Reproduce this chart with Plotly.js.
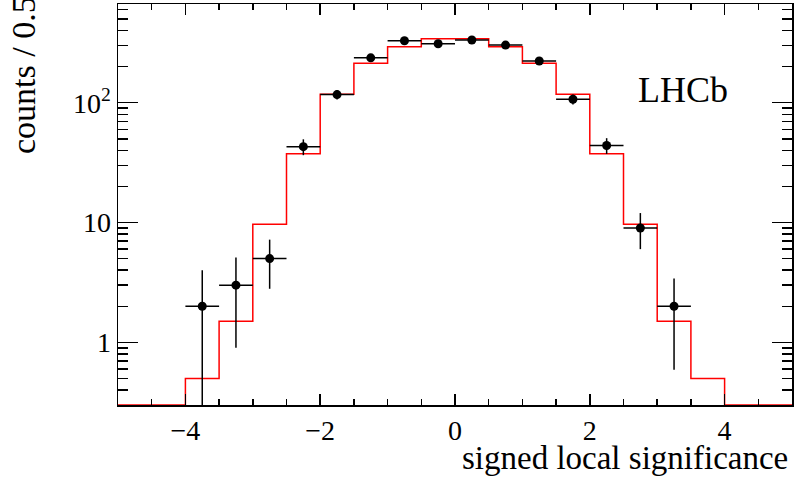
<!DOCTYPE html>
<html>
<head>
<meta charset="utf-8">
<script src="https://cdn.plot.ly/plotly-3.0.1.min.js"></script>
<style>html,body{margin:0;padding:0;background:#fff;}#chart{width:795px;height:484px;}</style>
</head>
<body>
<div id="chart"></div>
<script>
// Bin edges of the histogram (signed local significance)
const binEdges = [-5,-4.5,-4,-3.5,-3,-2.5,-2,-1.5,-1,-0.5,0,0.5,1,1.5,2,2.5,3,3.5,4,4.5,5];
// Expected (red histogram) counts per bin
const expected = [0,0,0.5,1.5,9.7,37.5,118,214,293,342,342,293,214,118,37.5,9.7,1.5,0.5,0,0];
// Data points: bin centres, counts, errors
const dataX = [-3.75,-3.25,-2.75,-2.25,-1.75,-1.25,-0.75,-0.25,0.25,0.75,1.25,1.75,2.25,2.75,3.25];
const dataY = [2,3,5,43,117,237,329,311,334,303,223,107,44,9,2];
const dataErr = [2.0,2.1,2.2,6.5,10.8,15.4,18.1,17.6,18.3,17.4,14.9,10.3,6.6,3.0,1.41];
const binHalfWidth = 0.25;
const yTickAlias = {'100':'10<sup>2</sup>'};

const yMin = 0.3, yMax = 667;
const serif = 'Liberation Serif, Times New Roman, serif';

const histY = expected.map(v => v > 0 ? v : yMin).concat([expected[expected.length-1] > 0 ? expected[expected.length-1] : yMin]);

const traces = [
  {
    x: binEdges, y: histY, type: 'scatter', mode: 'lines',
    line: {shape: 'hv', color: '#ff0000', width: 1.5},
    hoverinfo: 'skip'
  },
  {
    x: dataX, y: dataY, type: 'scatter', mode: 'markers',
    marker: {color: '#000', size: 9},
    error_y: {type: 'data', symmetric: false, array: dataErr,
              arrayminus: dataErr.map((e,i) => Math.min(e, dataY[i]*0.995)),
              color: '#000', thickness: 1.5, width: 0},
    error_x: {type: 'constant', value: binHalfWidth, color: '#000', thickness: 1.5, width: 0}
  }
];

const layout = {
  width: 795, height: 484,
  margin: {l: 118, r: 3, t: 4, b: 79},
  paper_bgcolor: '#fff', plot_bgcolor: '#fff',
  showlegend: false,
  font: {family: serif, color: '#000', size: 28},
  xaxis: {
    range: [-5, 5], dtick: 2, tick0: 0,
    ticks: 'inside', ticklen: 11, tickwidth: 1.5, tickcolor: '#000',
    minor: {dtick: 0.5, tick0: 0, ticks: 'inside', ticklen: 6, tickwidth: 1.5, tickcolor: '#000', showgrid: false},
    showline: true, linecolor: '#000', linewidth: 1.5, mirror: 'allticks',
    showgrid: false, zeroline: false,
    tickfont: {family: serif, size: 28, color: '#000'}
  },
  yaxis: {
    type: 'log', range: [Math.log10(yMin), Math.log10(yMax)], dtick: 1,
    labelalias: yTickAlias,
    ticks: 'inside', ticklen: 20, tickwidth: 1.5, tickcolor: '#000',
    minor: {dtick: 'D1', ticks: 'inside', ticklen: 10, tickwidth: 1.5, tickcolor: '#000', showgrid: false},
    showline: true, linecolor: '#000', linewidth: 1.5, mirror: 'allticks',
    showgrid: false, zeroline: false,
    tickfont: {family: serif, size: 28, color: '#000'}
  },
  annotations: [
    {text: 'signed local significance', xref: 'paper', yref: 'paper', x: 1, y: 0,
     xanchor: 'right', yanchor: 'top', xshift: -2, yshift: -33, showarrow: false,
     font: {family: serif, size: 33, color: '#000'}},
    {text: 'counts / 0.5', xref: 'paper', yref: 'paper', x: 0, y: 1,
     xanchor: 'center', yanchor: 'top', xshift: -95, yshift: 10, textangle: -90, showarrow: false,
     font: {family: serif, size: 34, color: '#000'}},
    {text: 'LHCb', xref: 'paper', yref: 'paper', x: 0, y: 1,
     xanchor: 'left', yanchor: 'top', xshift: 518, yshift: -64, showarrow: false,
     font: {family: serif, size: 36, color: '#000'}}
  ]
};

Plotly.newPlot('chart', traces, layout, {staticPlot: true, displayModeBar: false});
</script>
</body>
</html>
